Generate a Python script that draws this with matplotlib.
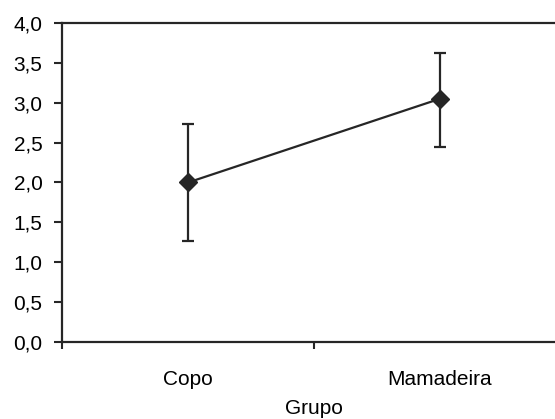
import matplotlib
matplotlib.use("Agg")
import matplotlib.pyplot as plt
from matplotlib.ticker import FixedLocator

categories = ["Copo", "Mamadeira"]
means = [2.0, 3.05]
upper = [2.73, 3.62]
lower = [1.27, 2.44]
yticks = [0.0, 0.5, 1.0, 1.5, 2.0, 2.5, 3.0, 3.5, 4.0]
ytick_labels = [f"{v:.1f}".replace(".", ",") for v in yticks]

plt.rcParams['font.family'] = ['Liberation Sans', 'DejaVu Sans']
col = "#262626"
fs = 15

fig = plt.figure(figsize=(5.55, 4.19), dpi=100)
ax = fig.add_axes([62/555, 77/419, 504/555, 319/419])

xpos = [0.5 + i for i in range(len(categories))]
yerr = [[m - l for m, l in zip(means, lower)], [u - m for m, u in zip(means, upper)]]
ax.errorbar(xpos, means, yerr=yerr, color=col, lw=1.6, marker="D", markersize=9,
            capsize=4.3, capthick=1.6, elinewidth=1.6, ecolor=col, mfc=col, mec=col)

ax.set_xlim(0, 2)
ax.set_ylim(0, 4)
ax.set_yticks(yticks)
ax.set_yticklabels(ytick_labels, fontsize=fs, color="black")
ax.xaxis.set_major_locator(FixedLocator([0, 1, 2]))
ax.set_xticklabels(["", "", ""])
ax.xaxis.set_minor_locator(FixedLocator(xpos))
ax.set_xticklabels(categories, minor=True, fontsize=fs)
ax.tick_params(axis="x", which="minor", length=0, pad=20.5)
ax.tick_params(axis="x", which="major", length=5, width=1.5, color=col, direction="out")
ax.tick_params(axis="y", length=6, width=1.5, color=col, direction="out", pad=8)
ax.set_xlabel("Grupo", fontsize=fs, labelpad=7)

for s in ["left", "bottom", "top", "right"]:
    ax.spines[s].set_linewidth(1.6)
    ax.spines[s].set_color(col)

fig.savefig("out.png", dpi=100)
